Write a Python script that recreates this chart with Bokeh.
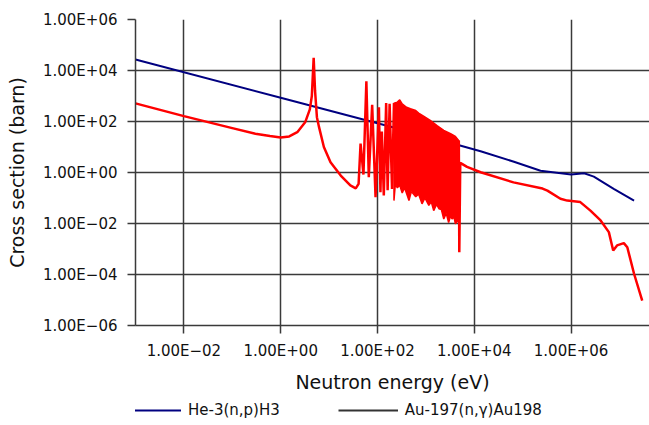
import math
from bokeh.plotting import figure
from bokeh.layouts import column
from bokeh.models import FixedTicker, Legend, LegendItem, Range1d, ColumnDataSource
from bokeh.embed import file_html
from bokeh.resources import INLINE

# ---- data ----
x_tick_values = [1e-2, 1.0, 1e2, 1e4, 1e6]
x_tick_labels = ["1.00E\u221202", "1.00E+00", "1.00E+02", "1.00E+04", "1.00E+06"]
y_tick_values = [1e-6, 1e-4, 1e-2, 1.0, 1e2, 1e4, 1e6]
y_tick_labels = ["1.00E\u221206", "1.00E\u221204", "1.00E\u221202", "1.00E+00",
                 "1.00E+02", "1.00E+04", "1.00E+06"]

series_names = ["He-3(n,p)H3", "Au-197(n,\u03b3)Au198"]

he3_energy_ev = [1e-3, 1.0, 1.0e3, 1.35e4, 6.6e4, 2.34e5, 1.0e6, 1.86e6, 2.95e6, 7.6e6, 2.0e7]
he3_xs_barn = [26900, 851, 26.9, 6.8, 2.63, 1.17, 0.83, 0.93, 0.69, 0.229, 0.079]

au_low_energy_ev = [0.001, 0.01, 0.1, 0.30, 0.6, 1.0, 1.5, 2.2, 3.2, 4.0, 4.4, 4.8, 5.13, 5.6,
                    6.2, 7.8, 10.7, 17.4, 27.5, 35.5, 40.7, 44.7, 51.3, 58.9, 66.1, 77.6,
                    91.2, 107, 115, 123, 135, 151, 162, 178, 200, 219]
au_low_xs_barn = [513, 162, 55, 33, 27, 23.4, 26, 38, 93, 300, 1000, 31600, 1580, 148,
                  60, 10, 2.5, 0.76, 0.31, 0.24, 0.36, 13.5, 0.83, 3800, 0.66, 447,
                  0.107, 363, 0.17, 40, 0.126, 525, 0.2, 490, 0.224, 525]

au_band_top_energy_ev = [219, 257, 288, 324, 398, 479, 617, 708, 912, 1230, 1700, 2340,
                         3240, 4070, 4790]
au_band_top_barn = [525, 575, 708, 490, 363, 316, 269, 214, 158, 110, 69, 45, 33, 26, 17.8]
au_band_low_energy_ev = [219, 234, 257, 288, 324, 363, 447, 501, 617, 708, 832, 955, 1150,
                         1290, 1450, 1660, 1860, 2090, 2340, 2630, 2950, 3240, 3470, 3800,
                         4070, 4570, 4790]
au_band_low_barn = [0.079, 0.355, 0.251, 0.316, 0.158, 0.251, 0.079, 0.178, 0.112, 0.141,
                    0.059, 0.1, 0.051, 0.071, 0.032, 0.056, 0.038, 0.035, 0.015, 0.025,
                    0.011, 0.02, 0.015, 0.018, 0.0098, 0.0126, 0.0126]

au_high_energy_ev = [4790, 4900, 5130, 7080, 13500, 64600, 257000, 324000, 603000, 832000,
                     1.55e6, 2.51e6, 4.07e6, 6.03e6, 7.41e6, 8.91e6, 1.23e7, 1.45e7, 2.0e7, 2.95e7]
au_high_xs_barn = [17.8, 0.00074, 2.4, 1.66, 1.02, 0.41, 0.234, 0.195, 0.093, 0.079,
                   0.069, 0.032, 0.0132, 0.0046, 0.00087, 0.00138, 0.0017, 0.00117,
                   0.000107, 0.0000095]

FONT = "DejaVu Sans"
GRID = "#3a3a3a"
BLUE = "#000080"
RED = "#ff0000"

p = figure(width=649, height=400, x_axis_type="log", y_axis_type="log",
           x_range=Range1d(1e-3, 4.17e7), y_range=Range1d(1e-6, 1e6),
           output_backend="svg", toolbar_location=None,
           min_border_left=135, min_border_right=0, min_border_top=19, min_border_bottom=75)
p.outline_line_color = None

xt = FixedTicker(ticks=x_tick_values, minor_ticks=[])
yt = FixedTicker(ticks=y_tick_values, minor_ticks=[])
p.xaxis.ticker = xt
p.yaxis.ticker = yt
p.xgrid.ticker = xt
p.ygrid.ticker = yt
p.xaxis.major_label_overrides = dict(zip(x_tick_values, x_tick_labels))
p.yaxis.major_label_overrides = dict(zip(y_tick_values, y_tick_labels))

for g in (p.xgrid, p.ygrid):
    g.grid_line_color = GRID
    g.grid_line_width = 1.5
    g.grid_line_alpha = 1.0

for ax in (p.xaxis, p.yaxis):
    ax.axis_line_color = GRID
    ax.axis_line_width = 1.5
    ax.major_tick_line_color = GRID
    ax.major_tick_line_width = 1.5
    ax.major_tick_out = 8
    ax.major_tick_in = 0
    ax.minor_tick_line_color = None
    ax.major_label_text_font = FONT
    ax.major_label_text_font_size = "15px"
    ax.major_label_text_color = "#111111"
    ax.axis_label_text_font = FONT
    ax.axis_label_text_font_size = "19px"
    ax.axis_label_text_font_style = "normal"
    ax.axis_label_text_color = "#111111"

p.xaxis.axis_label = "Neutron energy (eV)"
p.yaxis.axis_label = "Cross section (barn)"
p.yaxis.major_label_standoff = 10
p.xaxis.major_label_standoff = 8
p.yaxis.axis_label_standoff = 12
p.xaxis.axis_label_standoff = 8

p.line(he3_energy_ev, he3_xs_barn, line_color=BLUE, line_width=2)

band_x = au_band_top_energy_ev + au_band_low_energy_ev[::-1]
band_y = au_band_top_barn + au_band_low_barn[::-1]
p.patch(band_x, band_y, fill_color=RED, line_color=RED, line_width=1.5)
p.line(au_low_energy_ev, au_low_xs_barn, line_color=RED, line_width=2.5)
p.line(au_high_energy_ev, au_high_xs_barn, line_color=RED, line_width=2.5)

# legend strip below the chart (key renderers hold no drawable data)
p2 = figure(width=649, height=25, output_backend="svg", toolbar_location=None,
            x_range=Range1d(0, 1), y_range=Range1d(0, 1),
            x_axis_location=None, y_axis_location=None,
            min_border_left=0, min_border_right=0, min_border_top=0, min_border_bottom=0)
p2.grid.visible = False
p2.outline_line_color = None
nan_src = ColumnDataSource(data=dict(x=[math.nan], y=[math.nan]))
k_he3 = p2.line("x", "y", source=nan_src, line_color=BLUE, line_width=2)
k_au = p2.line("x", "y", source=nan_src, line_color="#333333", line_width=2)
legend = Legend(items=[LegendItem(label=series_names[0], renderers=[k_he3]),
                       LegendItem(label=series_names[1], renderers=[k_au])],
                orientation="horizontal", location=(-14, 6),
                border_line_color=None, background_fill_alpha=0,
                glyph_width=60, glyph_height=18, label_standoff=7, spacing=58,
                padding=0, margin=0,
                label_text_font=FONT, label_text_font_size="15px",
                label_text_color="#111111")
p2.add_layout(legend, "center")

open("out.html", "w").write(file_html(column(p, p2), INLINE))
